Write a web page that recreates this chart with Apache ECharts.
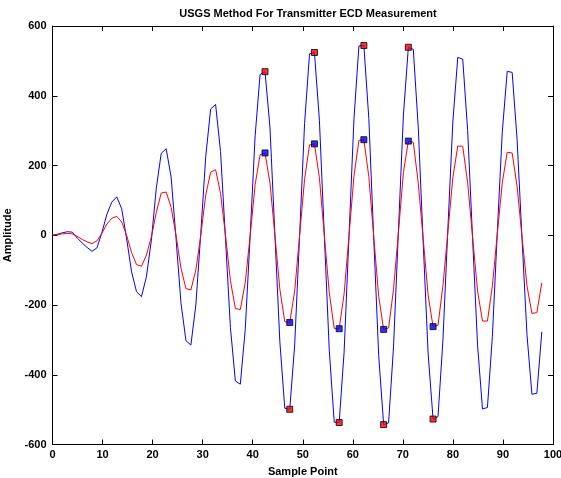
<!DOCTYPE html>
<html>
<head>
<meta charset="utf-8">
<script src="https://cdn.jsdelivr.net/npm/echarts@6/dist/echarts.min.js"></script>
<style>
html,body{margin:0;padding:0;background:#fff;}
#chart{width:561px;height:478px;}
</style>
</head>
<body>
<div id="chart"></div>
<script>
// ---- data ----
const titleText = "USGS Method For Transmitter ECD Measurement";
const xLabel = "Sample Point";
const yLabel = "Amplitude";
const sampleStep = 0.9875; // x spacing between samples

const blueAmp = [
  0, 3, 7, 10, 9, -8, -22, -35, -46, -36,
  8, 60, 95, 110, 76, -10, -105, -162, -176, -119,
  -15, 135, 235, 248, 167, -10, -195, -302, -315, -200,
  5, 225, 362, 375, 240, -10, -265, -418, -427, -270,
  0, 285, 461, 469, 310, 0, -305, -496, -499, -315,
  0, 320, 520, 524, 330, 0, -330, -536, -537, -335,
  0, 335, 543, 544, 335, -10, -345, -543, -538, -320,
  15, 345, 539, 533, 310, -20, -340, -527, -520, -300,
  20, 325, 510, 505, 300, -10, -315, -498, -494, -290,
  10, 295, 470, 467, 275, -10, -285, -456, -453, -277
];

const redAmp = [
  0, 2, 4, 5, 4, -3, -12, -19, -24, -16,
  6, 32, 49, 54, 38, 0, -50, -84, -89, -57,
  -5, 65, 121, 124, 80, 0, -95, -153, -157, -100,
  0, 115, 181, 188, 120, 0, -130, -210, -213, -135,
  0, 145, 231, 236, 150, 0, -155, -248, -250, -160,
  0, 160, 259, 262, 165, 0, -165, -267, -268, -168,
  0, 170, 272, 274, 168, -5, -175, -270, -266, -155,
  10, 180, 270, 267, 150, -10, -172, -262, -258, -145,
  10, 165, 256, 255, 150, -5, -160, -246, -246, -145,
  5, 150, 238, 236, 140, -5, -145, -224, -222, -136
];

// indices of detected extremes (markers)
const extremeIdx = [43, 48, 53, 58, 63, 67, 72, 77];

const xTicks = {min: 0, max: 100, interval: 10};
const yTicks = {min: -600, max: 600, interval: 200};

// ---- build series ----
const bluePts = blueAmp.map((v, i) => [i * sampleStep, v]);
const redPts = redAmp.map((v, i) => [i * sampleStep, v]);
const redMarks = extremeIdx.map(i => [i * sampleStep, blueAmp[i]]);
const blueMarks = extremeIdx.map(i => [i * sampleStep, redAmp[i]]);

const FONT = "'Liberation Sans', Arial, Helvetica, sans-serif";
const chart = echarts.init(document.getElementById('chart'), null, {renderer: 'canvas'});

const axisCommon = {
  axisLine: {show: true, onZero: false, lineStyle: {color: '#000', width: 1}},
  axisTick: {show: true, inside: true, length: 5, lineStyle: {color: '#000', width: 1}},
  splitLine: {show: false}
};

chart.setOption({
  animation: false,
  backgroundColor: '#fff',
  title: {
    text: titleText,
    left: 303, top: 3, textAlign: 'center',
    textStyle: {fontFamily: FONT, fontSize: 11, fontWeight: 'bold', color: '#000'}
  },
  grid: {left: 52.5, right: 8, top: 26, bottom: 33.5, containLabel: false, outerBoundsMode: 'none'},
  xAxis: [
    Object.assign({
      type: 'value', position: 'bottom',
      min: xTicks.min, max: xTicks.max, interval: xTicks.interval,
      name: xLabel, nameLocation: 'middle', nameGap: 22,
      nameTextStyle: {fontFamily: FONT, fontSize: 11, fontWeight: 'bold', color: '#000'},
      axisLabel: {fontFamily: FONT, fontSize: 11, fontWeight: 'bold', color: '#000', margin: 5}
    }, axisCommon),
    Object.assign({
      type: 'value', position: 'top',
      min: xTicks.min, max: xTicks.max, interval: xTicks.interval,
      axisLabel: {show: false}
    }, axisCommon)
  ],
  yAxis: [
    Object.assign({
      type: 'value', position: 'left',
      min: yTicks.min, max: yTicks.max, interval: yTicks.interval,
      name: yLabel, nameLocation: 'middle', nameGap: 36,
      nameTextStyle: {fontFamily: FONT, fontSize: 11, fontWeight: 'bold', color: '#000'},
      axisLabel: {fontFamily: FONT, fontSize: 11, fontWeight: 'bold', color: '#000', margin: 6}
    }, axisCommon),
    Object.assign({
      type: 'value', position: 'right',
      min: yTicks.min, max: yTicks.max, interval: yTicks.interval,
      axisLabel: {show: false}
    }, axisCommon)
  ],
  series: [
    {
      type: 'line', data: bluePts, xAxisIndex: 0, yAxisIndex: 0,
      showSymbol: false, symbol: 'none',
      lineStyle: {color: '#0000ff', width: 1}, z: 2
    },
    {
      type: 'line', data: redPts, xAxisIndex: 0, yAxisIndex: 0,
      showSymbol: false, symbol: 'none',
      lineStyle: {color: '#ff0000', width: 1}, z: 3
    },
    {
      type: 'scatter', data: redMarks, symbol: 'rect', symbolSize: 6,
      itemStyle: {color: '#ff0000', borderColor: '#000', borderWidth: 1}, z: 5
    },
    {
      type: 'scatter', data: blueMarks, symbol: 'rect', symbolSize: 6,
      itemStyle: {color: '#0000ff', borderColor: '#000', borderWidth: 1}, z: 5
    }
  ]
});
</script>
</body>
</html>
